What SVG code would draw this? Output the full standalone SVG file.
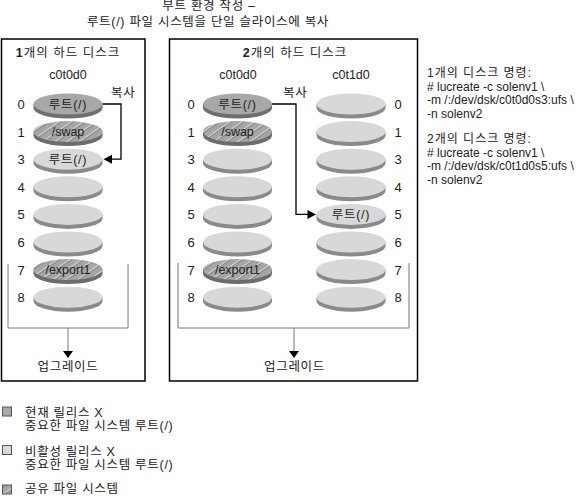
<svg xmlns="http://www.w3.org/2000/svg" width="578" height="496" viewBox="0 0 578 496">
<style>
text{font-family:"Liberation Sans","Noto Sans CJK KR",sans-serif;fill:#222}
.t{font-size:12.5px}
.k{letter-spacing:0.7px}
.n{font-size:13px}
.c{font-size:12px}
.m{text-anchor:middle}
.frame{fill:none;stroke:#000;stroke-width:1.5}
.br{fill:none;stroke:#777;stroke-width:1}
.ln{fill:none;stroke:#000;stroke-width:1.3}
.dTop{fill:#a8a8a8}.dRim{fill:#6f6f6f}
.lTop{fill:#d8d8d8}.lRim{fill:#8a8a8a}
.hTop{fill:url(#hatch)}.hRim{fill:#6c6c6c}
</style>
<defs>
<pattern id="hatch" patternUnits="userSpaceOnUse" width="7" height="7" patternTransform="rotate(55)">
<rect width="7" height="7" fill="#a6a6a6"/>
<line x1="0.6" y1="0" x2="0.6" y2="7" stroke="#dcdcdc" stroke-width="1.1"/>
<line x1="1.7" y1="0" x2="1.7" y2="7" stroke="#7c7c7c" stroke-width="0.9"/>
</pattern>
</defs>

<g id="title">
<text class="t m k" x="209" y="10">부트 환경 작성 –</text>
<text class="t m k" x="208" y="26">루트(/) 파일 시스템을 단일 슬라이스에 복사</text>
</g>

<g id="box1">
<rect class="frame" x="1.5" y="39" width="143.5" height="342"/>
<text class="t m" x="68" y="57" letter-spacing="1"><tspan font-weight="bold">1</tspan>개의 하드 디스크</text>
<text class="t m" x="68" y="79">c0t0d0</text>
<polyline class="br" points="8,264 8,328 128,328 128,264"/>
<text class="t m k" x="68" y="371">업그레이드</text>
</g>

<g id="box2">
<rect class="frame" x="169.5" y="39" width="248" height="342"/>
<text class="t m" x="295" y="57" letter-spacing="1"><tspan font-weight="bold">2</tspan>개의 하드 디스크</text>
<text class="t m" x="238" y="79">c0t0d0</text>
<text class="t m" x="351" y="79">c0t1d0</text>
<polyline class="br" points="178,263 178,328 409,328 409,263"/>
<text class="t m k" x="294.5" y="371">업그레이드</text>
</g>

<g id="disks1">
<text class="n m" x="21" y="109">0</text><text class="n m" x="21" y="136.6">1</text><text class="n m" x="21" y="164.2">3</text><text class="n m" x="21" y="191.8">4</text><text class="n m" x="21" y="219.4">5</text><text class="n m" x="21" y="247">6</text><text class="n m" x="21" y="274.6">7</text><text class="n m" x="21" y="302.2">8</text>
<path class="dRim" d="M33.5,104 v4 a34.5,10.5 0 0 0 69,0 v-4z"/><ellipse class="dTop" cx="68" cy="104" rx="34.5" ry="10.5"/>
<text class="t m k" x="68" y="108.5">루트(/)</text>
<path class="hRim" d="M33.5,131.6 v4 a34.5,10.5 0 0 0 69,0 v-4z"/><ellipse class="hTop" cx="68" cy="131.6" rx="34.5" ry="10.5"/>
<text class="t m" x="68" y="136">/swap</text>
<path class="lRim" d="M33.5,159.2 v4 a34.5,10.5 0 0 0 69,0 v-4z"/><ellipse class="lTop" cx="68" cy="159.2" rx="34.5" ry="10.5"/>
<text class="t m k" x="68" y="163.7">루트(/)</text>
<path class="lRim" d="M33.5,186.8 v4 a34.5,10.5 0 0 0 69,0 v-4z"/><ellipse class="lTop" cx="68" cy="186.8" rx="34.5" ry="10.5"/>
<path class="lRim" d="M33.5,214.4 v4 a34.5,10.5 0 0 0 69,0 v-4z"/><ellipse class="lTop" cx="68" cy="214.4" rx="34.5" ry="10.5"/>
<path class="lRim" d="M33.5,242 v4 a34.5,10.5 0 0 0 69,0 v-4z"/><ellipse class="lTop" cx="68" cy="242" rx="34.5" ry="10.5"/>
<path class="hRim" d="M33.5,269.6 v4 a34.5,10.5 0 0 0 69,0 v-4z"/><ellipse class="hTop" cx="68" cy="269.6" rx="34.5" ry="10.5"/>
<text class="t m" x="68" y="274">/export1</text>
<path class="lRim" d="M33.5,297.2 v4 a34.5,10.5 0 0 0 69,0 v-4z"/><ellipse class="lTop" cx="68" cy="297.2" rx="34.5" ry="10.5"/>
</g>

<g id="disks2a">
<text class="n m" x="191" y="109">0</text><text class="n m" x="191" y="136.6">1</text><text class="n m" x="191" y="164.2">3</text><text class="n m" x="191" y="191.8">4</text><text class="n m" x="191" y="219.4">5</text><text class="n m" x="191" y="247">6</text><text class="n m" x="191" y="274.6">7</text><text class="n m" x="191" y="302.2">8</text>
<path class="dRim" d="M203,104 v4 a34.5,10.5 0 0 0 69,0 v-4z"/><ellipse class="dTop" cx="237.5" cy="104" rx="34.5" ry="10.5"/>
<text class="t m k" x="237.5" y="108.5">루트(/)</text>
<path class="hRim" d="M203,131.6 v4 a34.5,10.5 0 0 0 69,0 v-4z"/><ellipse class="hTop" cx="237.5" cy="131.6" rx="34.5" ry="10.5"/>
<text class="t m" x="237.5" y="136">/swap</text>
<path class="lRim" d="M203,159.2 v4 a34.5,10.5 0 0 0 69,0 v-4z"/><ellipse class="lTop" cx="237.5" cy="159.2" rx="34.5" ry="10.5"/>
<path class="lRim" d="M203,186.8 v4 a34.5,10.5 0 0 0 69,0 v-4z"/><ellipse class="lTop" cx="237.5" cy="186.8" rx="34.5" ry="10.5"/>
<path class="lRim" d="M203,214.4 v4 a34.5,10.5 0 0 0 69,0 v-4z"/><ellipse class="lTop" cx="237.5" cy="214.4" rx="34.5" ry="10.5"/>
<path class="lRim" d="M203,242 v4 a34.5,10.5 0 0 0 69,0 v-4z"/><ellipse class="lTop" cx="237.5" cy="242" rx="34.5" ry="10.5"/>
<path class="hRim" d="M203,269.6 v4 a34.5,10.5 0 0 0 69,0 v-4z"/><ellipse class="hTop" cx="237.5" cy="269.6" rx="34.5" ry="10.5"/>
<text class="t m" x="237.5" y="274">/export1</text>
<path class="lRim" d="M203,297.2 v4 a34.5,10.5 0 0 0 69,0 v-4z"/><ellipse class="lTop" cx="237.5" cy="297.2" rx="34.5" ry="10.5"/>
</g>

<g id="disks2b">
<text class="n m" x="398" y="109">0</text><text class="n m" x="398" y="136.6">1</text><text class="n m" x="398" y="164.2">3</text><text class="n m" x="398" y="191.8">4</text><text class="n m" x="398" y="219.4">5</text><text class="n m" x="398" y="247">6</text><text class="n m" x="398" y="274.6">7</text><text class="n m" x="398" y="302.2">8</text>
<path class="lRim" d="M316.5,104 v4 a34.5,10.5 0 0 0 69,0 v-4z"/><ellipse class="lTop" cx="351" cy="104" rx="34.5" ry="10.5"/>
<path class="lRim" d="M316.5,131.6 v4 a34.5,10.5 0 0 0 69,0 v-4z"/><ellipse class="lTop" cx="351" cy="131.6" rx="34.5" ry="10.5"/>
<path class="lRim" d="M316.5,159.2 v4 a34.5,10.5 0 0 0 69,0 v-4z"/><ellipse class="lTop" cx="351" cy="159.2" rx="34.5" ry="10.5"/>
<path class="lRim" d="M316.5,186.8 v4 a34.5,10.5 0 0 0 69,0 v-4z"/><ellipse class="lTop" cx="351" cy="186.8" rx="34.5" ry="10.5"/>
<path class="lRim" d="M316.5,214.4 v4 a34.5,10.5 0 0 0 69,0 v-4z"/><ellipse class="lTop" cx="351" cy="214.4" rx="34.5" ry="10.5"/>
<text class="t m k" x="351" y="218.9">루트(/)</text>
<path class="lRim" d="M316.5,242 v4 a34.5,10.5 0 0 0 69,0 v-4z"/><ellipse class="lTop" cx="351" cy="242" rx="34.5" ry="10.5"/>
<path class="lRim" d="M316.5,269.6 v4 a34.5,10.5 0 0 0 69,0 v-4z"/><ellipse class="lTop" cx="351" cy="269.6" rx="34.5" ry="10.5"/>
<path class="lRim" d="M316.5,297.2 v4 a34.5,10.5 0 0 0 69,0 v-4z"/><ellipse class="lTop" cx="351" cy="297.2" rx="34.5" ry="10.5"/>
</g>

<g id="connectors">
<text class="t k" x="111" y="97">복사</text>
<polyline class="ln" points="102.5,104 121,104 121,159.2 111,159.2"/>
<polygon points="103.5,159.2 112,154.7 112,163.7" fill="#000"/>
<text class="t k" x="283" y="97">복사</text>
<polyline class="ln" points="272,104 296,104 296,214.4 308,214.4"/>
<polygon points="316,214.4 307.5,209.9 307.5,218.9" fill="#000"/>
<line class="br" x1="68" y1="328" x2="68" y2="352"/>
<polygon points="63,351 73,351 68,358" fill="#000"/>
<line class="br" x1="294" y1="328" x2="294" y2="352"/>
<polygon points="289,351 299,351 294,358" fill="#000"/>
</g>

<g id="commands">
<text class="c" x="427" y="77" letter-spacing="1">1개의 디스크 명령:</text>
<text class="c" x="427" y="90.5">#  lucreate -c solenv1 \</text>
<text class="c" x="427" y="104">-m /:/dev/dsk/c0t0d0s3:ufs \</text>
<text class="c" x="427" y="117.5">-n solenv2</text>
<text class="c" x="427" y="143" letter-spacing="1">2개의 디스크 명령:</text>
<text class="c" x="427" y="156.5">#  lucreate -c solenv1 \</text>
<text class="c" x="427" y="170">-m /:/dev/dsk/c0t1d0s5:ufs \</text>
<text class="c" x="427" y="183.5">-n solenv2</text>
</g>

<g id="legend">
<rect x="2.5" y="407" width="9" height="9" fill="#a8a8a8" stroke="#555" stroke-width="1"/>
<text class="t k" x="25" y="417">현재 릴리스 X</text>
<text class="t k" x="25" y="430">중요한 파일 시스템 루트(/)</text>
<rect x="2.5" y="445.5" width="9" height="9" fill="#d8d8d8" stroke="#555" stroke-width="1"/>
<text class="t k" x="25" y="456">비활성 릴리스 X</text>
<text class="t k" x="25" y="469">중요한 파일 시스템 루트(/)</text>
<rect x="2.5" y="485" width="9" height="9" fill="url(#hatch)" stroke="#555" stroke-width="1"/>
<text class="t k" x="25" y="493">공유 파일 시스템</text>
</g>
</svg>
